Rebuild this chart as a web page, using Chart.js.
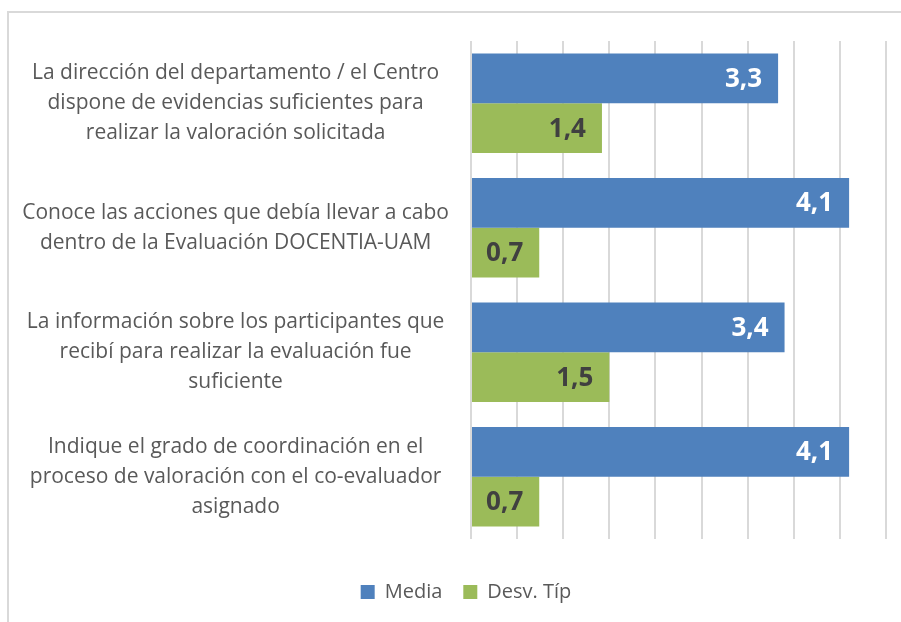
<!DOCTYPE html>
<html>
<head>
<meta charset="utf-8">
<script src="https://cdn.jsdelivr.net/npm/chart.js@4/dist/chart.umd.min.js"></script>
<style>
  html, body { margin: 0; padding: 0; background: #fff; overflow: hidden; }
  #caja { position: relative; width: 901px; height: 622px; }
  #marco { position: absolute; left: 7px; top: 11px; width: 1000px; height: 1000px; border: 2px solid #d9d9d9; }
  #grafica { position: absolute; left: 0; top: 0; }
</style>
</head>
<body>
<div id="caja">
  <div id="marco"></div>
  <canvas id="grafica" width="901" height="622"></canvas>
</div>
<script>
// Datos
const preguntas = [
    ['La dirección del departamento / el Centro', 'dispone de evidencias suficientes para', 'realizar la valoración solicitada'],
    ['Conoce las acciones que debía llevar a cabo', 'dentro de la Evaluación DOCENTIA-UAM'],
    ['La información sobre los participantes que', 'recibí para realizar la evaluación fue', 'suficiente'],
    ['Indique el grado de coordinación en el', 'proceso de valoración con el co-evaluador', 'asignado']
];
const media = [3.33, 4.1, 3.4, 4.1];
const desviacion = [1.42, 0.74, 1.5, 0.74];

const AZUL = '#4F81BD';
const VERDE = '#9BBB59';
const FUENTE = "'Open Sans', 'DejaVu Sans', sans-serif";

// Etiquetas de valor dentro de las barras
const etiquetasValor = {
    id: 'etiquetasValor',
    afterDatasetsDraw(chart) {
        const ctx = chart.ctx;
        ctx.save();
        ctx.font = 'bold 26px ' + FUENTE;
        ctx.textAlign = 'right';
        ctx.textBaseline = 'middle';
        chart.data.datasets.forEach(function (ds, i) {
            ctx.fillStyle = i === 0 ? '#ffffff' : '#404040';
            chart.getDatasetMeta(i).data.forEach(function (barra, j) {
                let texto = ds.data[j].toFixed(1).replace('.', ',');
                ctx.fillText(texto, barra.x - 16, barra.y + 1);
            });
        });
        ctx.restore();
    }
};

// La leyenda va un poco a la derecha del centro, como en el original
const moverLeyenda = {
    id: 'moverLeyenda',
    afterLayout(chart) {
        chart.legend.left += 13;
        chart.legend.right += 13;
    }
};

new Chart(document.getElementById('grafica'), {
    type: 'bar',
    data: {
        labels: preguntas,
        datasets: [
            { label: 'Media', data: media, backgroundColor: AZUL },
            { label: 'Desv. Típ', data: desviacion, backgroundColor: VERDE }
        ]
    },
    options: {
        indexAxis: 'y',
        responsive: false,
        animation: false,
        devicePixelRatio: 1,
        categoryPercentage: 0.8,
        barPercentage: 1.0,
        layout: {
            padding: { top: 41, right: 15, left: 20, bottom: 10 }
        },
        plugins: {
            tooltip: { enabled: false },
            legend: {
                position: 'bottom',
                labels: {
                    boxWidth: 14,
                    boxHeight: 14,
                    padding: 21,
                    color: '#595959',
                    font: { family: FUENTE, size: 20 }
                }
            }
        },
        scales: {
            x: {
                min: 0,
                max: 4.5,
                ticks: { display: false, stepSize: 0.5 },
                grid: { color: '#d9d9d9', lineWidth: 2, drawTicks: false },
                border: { display: false },
                afterFit(escala) {
                    escala.height = 22;
                    escala.paddingLeft = 0;
                    escala.paddingRight = 0;
                }
            },
            y: {
                grid: { display: false, drawTicks: false },
                border: { display: false },
                ticks: {
                    crossAlign: 'center',
                    padding: 22,
                    color: '#595959',
                    font: { family: FUENTE, size: 21, lineHeight: 1.43 }
                },
                afterFit(escala) {
                    escala.width = 451;
                    escala.paddingTop = 0;
                    escala.paddingBottom = 0;
                }
            }
        }
    },
    plugins: [etiquetasValor, moverLeyenda]
});
</script>
</body>
</html>
